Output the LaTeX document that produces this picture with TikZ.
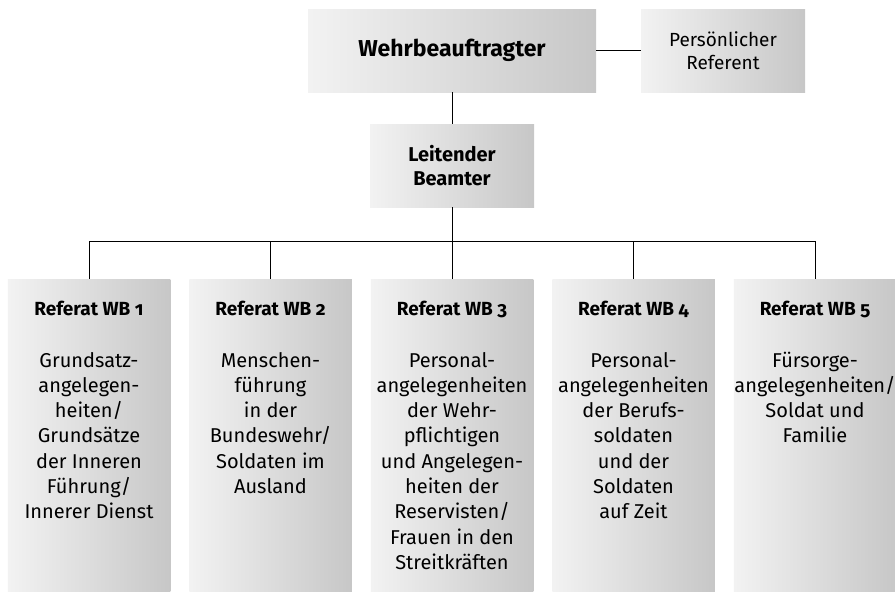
\documentclass[tikz,border=0pt]{standalone}
\usepackage{fontspec}
\setmainfont{Fira Sans}[Numbers=OldStyle]
\usetikzlibrary{positioning}
\tikzstyle{chief} = [rectangle, 
minimum width=288pt, 
minimum height=83pt,
text centered, 
left color=black!5, 
right color=black!22,
font=\bfseries\fontsize{23}{27}\selectfont]
\tikzstyle{staff} = [rectangle, 
minimum width=164pt, 
minimum height=83pt,
align=center, 
left color=black!5, 
right color=black!22,
font=\fontsize{19}{23.5}\selectfont]
\tikzstyle{refbox} = [rectangle, 
minimum width=162.5pt, 
minimum height=313pt,
inner sep=0pt, 
left color=black!5, 
right color=black!22,
font=\fontsize{20}{25.3}\selectfont]
\newcommand{\referat}[2]{\parbox[c][313pt][t]{162pt}{\centering\rule{0pt}{36pt}{\fontsize{19}{25.3}\selectfont\textbf{Referat WB #1}}\par\vspace{26.7pt}#2}}

\begin{document}
\begin{tikzpicture}[x=1pt, y=1pt, node distance=115pt, line width=0.9pt]
\useasboundingbox (0,0) rectangle (895,-592);

\node (wehr) [chief] at (452,-50.5) {Wehrbeauftragter};
\node (persref) [staff, right of=wehr, xshift=156pt] {Persönlicher\\Referent};
\draw (wehr) -- (persref);

\node (leit) [staff, below of=wehr, font=\bfseries\fontsize{20}{23.5}\selectfont] {Leitender\\Beamter};
\draw (wehr) -- (leit);

\coordinate [below of=leit, yshift=39.5pt] (bus);
\node (ref1) [refbox, below of=leit, xshift=-363pt, yshift=-155pt] {\referat{1}{Grundsatz-\\angelegen-\\heiten/\\Grundsätze\\der Inneren\\Führung/\\Innerer Dienst}};
\node (ref2) [refbox, below of=leit, xshift=-181.5pt, yshift=-155pt] {\referat{2}{Menschen-\\führung\\in der\\Bundeswehr/\\Soldaten im\\Ausland}};
\node (ref3) [refbox, below of=leit, xshift=0pt, yshift=-155pt] {\referat{3}{Personal-\\angelegenheiten\\der Wehr-\\pflichtigen\\und Angelegen-\\heiten der\\Reservisten/\\Frauen in den\\Streitkräften}};
\node (ref4) [refbox, below of=leit, xshift=181.5pt, yshift=-155pt] {\referat{4}{Personal-\\angelegenheiten\\der Berufs-\\soldaten\\und der\\Soldaten\\auf Zeit}};
\node (ref5) [refbox, below of=leit, xshift=363pt, yshift=-155pt] {\referat{5}{Fürsorge-\\angelegenheiten/\\Soldat und\\Familie}};
\draw (leit) -- (ref3);
\draw (bus) -| (ref1);
\draw (bus) -| (ref2);
\draw (bus) -| (ref4);
\draw (bus) -| (ref5);

\end{tikzpicture}
\end{document}
